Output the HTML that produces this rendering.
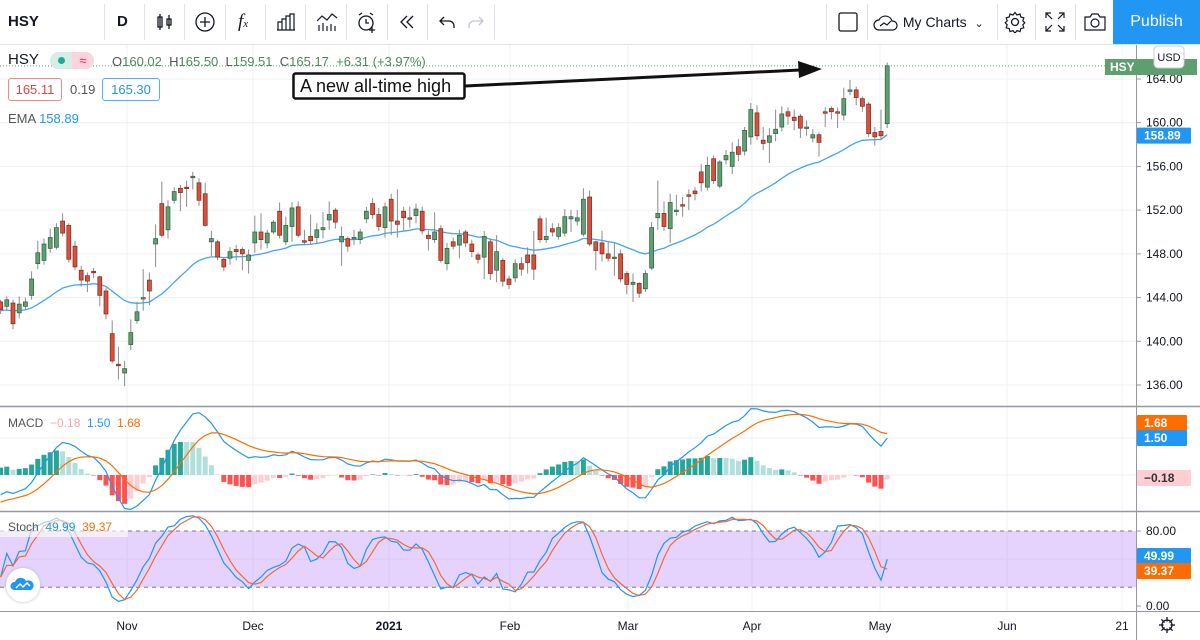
<!DOCTYPE html>
<html><head><meta charset="utf-8"><style>
body{margin:0;width:1200px;height:640px;overflow:hidden;background:#fff;font-family:"Liberation Sans",sans-serif;position:relative}
.tb{position:absolute;left:0;top:0;width:1200px;height:44px;border-bottom:1px solid #e0e3eb;background:#fff}
.ti{position:absolute;top:0;height:44px;line-height:44px;font-size:15px;color:#131722;text-align:center}
.sep{position:absolute;top:4px;width:1px;height:36px;background:#e0e3eb}
.lg{position:absolute;font-size:13px;color:#131722}
</style></head><body>
<div class="tb">
  <div class="ti" style="left:8px;font-weight:bold">HSY</div>
  <div class="sep" style="left:104px"></div>
  <div class="ti" style="left:117px;font-weight:bold">D</div>
  <div class="sep" style="left:144px"></div>
  <div class="ti" style="left:156px"><svg width="18" height="20" viewBox="0 0 18 20" style="vertical-align:middle"><path d="M4 2v16M2 5h4v10H2zM13 3v14M11 7h4v6h-4z" stroke="#131722" fill="none" stroke-width="1.3"/></svg></div>
  <div class="sep" style="left:184px"></div>
  <div class="ti" style="left:194px"><svg width="22" height="22" viewBox="0 0 22 22" style="vertical-align:middle"><circle cx="11" cy="11" r="9" stroke="#131722" fill="none" stroke-width="1.3"/><path d="M11 6v10M6 11h10" stroke="#131722" stroke-width="1.3"/></svg></div>
  <div class="sep" style="left:225px"></div>
  <div class="ti" style="left:238px;font-style:italic;font-family:'Liberation Serif',serif;font-size:19px">f<span style="font-size:11px">x</span></div>
  <div class="sep" style="left:265px"></div>
  <div class="ti" style="left:276px"><svg width="20" height="18" viewBox="0 0 20 18" style="vertical-align:middle"><path d="M2 17V9h4v8M6 17V6h4v11M10 17V3h4v14M14 17V1h4v16M1 17h18" stroke="#131722" fill="none" stroke-width="1.2"/></svg></div>
  <div class="sep" style="left:305px"></div>
  <div class="ti" style="left:316px"><svg width="22" height="20" viewBox="0 0 22 20" style="vertical-align:middle"><path d="M1 9l5-5 5 4 5-6 5 4M3 19v-6M7 19v-8M11 19v-5M15 19v-7M19 19v-5" stroke="#131722" fill="none" stroke-width="1.2"/></svg></div>
  <div class="sep" style="left:346px"></div>
  <div class="ti" style="left:356px"><svg width="22" height="22" viewBox="0 0 22 22" style="vertical-align:middle"><circle cx="10" cy="12" r="7" stroke="#131722" fill="none" stroke-width="1.3"/><path d="M10 8v4h3M3 4l3-2M17 4l-3-2M16 16v6M13 19h6" stroke="#131722" fill="none" stroke-width="1.3"/></svg></div>
  <div class="sep" style="left:387px"></div>
  <div class="ti" style="left:398px"><svg width="18" height="16" viewBox="0 0 18 16" style="vertical-align:middle"><path d="M9 2L3 8l6 6M15 2L9 8l6 6" stroke="#131722" fill="none" stroke-width="1.3"/></svg></div>
  <div class="sep" style="left:427px"></div>
  <div class="ti" style="left:438px"><svg width="18" height="16" viewBox="0 0 18 16" style="vertical-align:middle"><path d="M6 3L2 7l4 4M2 7h9a5 5 0 0 1 5 5v2" stroke="#131722" fill="none" stroke-width="1.3"/></svg></div>
  <div class="ti" style="left:467px"><svg width="18" height="16" viewBox="0 0 18 16" style="vertical-align:middle"><path d="M12 3l4 4-4 4M16 7H7a5 5 0 0 0-5 5v2" stroke="#c3c6ce" fill="none" stroke-width="1.3"/></svg></div>
  <div class="sep" style="left:494px"></div>
  <div class="sep" style="left:826px"></div>
  <div class="ti" style="left:838px"><svg width="20" height="20" viewBox="0 0 20 20" style="vertical-align:middle"><rect x="1" y="1" width="18" height="18" rx="2" stroke="#131722" fill="none" stroke-width="1.3"/></svg></div>
  <div class="sep" style="left:867px"></div>
  <div class="ti" style="left:873px;font-size:14px"><svg width="26" height="18" viewBox="0 0 26 18" style="vertical-align:middle"><path d="M6 16a5 5 0 0 1 0-10 7 7 0 0 1 13 1 4.5 4.5 0 0 1 1 9z" stroke="#131722" fill="none" stroke-width="1.2"/><path d="M7 12l4-3 3 2 4-4" stroke="#131722" fill="none" stroke-width="1.2"/></svg> My Charts &nbsp;<span style="font-size:11px">&#8964;</span></div>
  <div class="sep" style="left:997px"></div>
  <div class="ti" style="left:1004px"><svg width="22" height="22" viewBox="0 0 22 22" style="vertical-align:middle"><circle cx="11" cy="11" r="3.5" stroke="#131722" fill="none" stroke-width="1.3"/><path d="M11 1.5l2 2.5 3-1 .8 3 3 .8-1 3 2 2-2 2 1 3-3 .8-.8 3-3-1-2 2.5-2-2.5-3 1-.8-3-3-.8 1-3-2-2 2-2-1-3 3-.8.8-3 3 1z" stroke="#131722" fill="none" stroke-width="1.2"/></svg></div>
  <div class="sep" style="left:1035px"></div>
  <div class="ti" style="left:1045px"><svg width="20" height="20" viewBox="0 0 20 20" style="vertical-align:middle"><path d="M1 6V1h5M1 1l6 6M14 1h5v5M19 1l-6 6M1 14v5h5M1 19l6-6M19 14v5h-5M19 19l-6-6" stroke="#131722" fill="none" stroke-width="1.2"/></svg></div>
  <div class="sep" style="left:1075px"></div>
  <div class="ti" style="left:1084px"><svg width="22" height="18" viewBox="0 0 22 18" style="vertical-align:middle"><path d="M1 4h5l2-3h6l2 3h5v13H1z" stroke="#131722" fill="none" stroke-width="1.2"/><circle cx="11" cy="10" r="4" stroke="#131722" fill="none" stroke-width="1.2"/></svg></div>
  <div style="position:absolute;left:1113px;top:0;width:87px;height:44px;background:#2196f3;color:#fff;font-size:16px;line-height:44px;text-align:center">Publish</div>
</div>

<svg id="chart" width="1200" height="640" style="position:absolute;left:0;top:0"></svg>

<div class="lg" style="left:8px;top:51px;font-size:15px">HSY</div>
<div class="lg" style="left:50px;top:52px;width:44px;height:17px;border-radius:9px;background:#d5ede6;overflow:hidden"><div style="position:absolute;left:8px;top:5px;width:7px;height:7px;border-radius:4px;background:#26a69a"></div><div style="position:absolute;left:22px;top:0;width:22px;height:17px;background:#fbd4df;color:#e91e63;font-size:13px;line-height:17px;text-align:center">≈</div></div>
<div class="lg" style="left:112px;top:54px;color:#4c8a5d;font-size:13px"><span style="color:#555">O</span>160.02 &nbsp;<span style="color:#555">H</span>165.50 &nbsp;<span style="color:#555">L</span>159.51 &nbsp;<span style="color:#555">C</span>165.17 &nbsp;+6.31 (+3.97%)</div>
<div class="lg" style="left:8px;top:78px;width:52px;height:21px;border:1px solid #ef8a8a;border-radius:3px;color:#e04545;line-height:21px;text-align:center">165.11</div>
<div class="lg" style="left:70px;top:82px;color:#555">0.19</div>
<div class="lg" style="left:102px;top:78px;width:56px;height:21px;border:1px solid #5aaff3;border-radius:3px;color:#2196f3;line-height:21px;text-align:center">165.30</div>
<div class="lg" style="left:8px;top:111px;color:#555">EMA <span style="color:#2196f3">158.89</span></div>
<div class="lg" style="left:8px;top:416px;color:#555;font-size:12px">MACD &nbsp;<span style="color:#f5a5b0">−0.18</span> &nbsp;<span style="color:#2196f3">1.50</span> &nbsp;<span style="color:#ff6d00">1.68</span></div>
<div class="lg" style="left:0;top:515px;width:128px;height:22px;background:rgba(255,255,255,0.6)"></div>
<div class="lg" style="left:8px;top:520px;color:#555;font-size:12px">Stoch &nbsp;<span style="color:#2196f3">49.99</span> &nbsp;<span style="color:#ff6d00">39.37</span></div>
<div style="position:absolute;left:6px;top:568px;width:34px;height:34px;border-radius:17px;background:#fff;box-shadow:0 0 3px #bbb"><svg width="34" height="34" viewBox="0 0 34 34"><path d="M8 22a4 4 0 0 1 1-8 6 6 0 0 1 11-1 4.5 4.5 0 0 1 5 9z" fill="#2196f3"/><path d="M10 20l4-4 3 3 4-4 3 3" stroke="#fff" fill="none" stroke-width="1.5"/></svg></div>

<script>
// candles: open, high, low, close
const opens=[143.6,143.2,143.5,142.6,143.2,144.2,147.1,147.4,148.5,148.6,151.0,150.6,148.7,146.5,146.0,146.4,145.9,144.6,140.7,137.9,137.1,139.7,141.9,143.9,145.6,148.9,152.6,150.2,152.9,154.0,154.1,155.0,154.5,153.5,149.1,149.1,147.5,147.6,148.4,148.4,147.4,149.0,150.0,149.0,150.0,151.9,149.1,150.5,152.3,149.2,149.6,149.5,150.2,151.1,152.0,149.1,149.4,149.5,149.3,151.2,152.6,151.6,150.4,153.0,151.0,151.9,151.3,151.5,151.9,149.7,149.3,150.3,147.1,149.1,148.8,150.0,148.9,147.9,147.7,149.1,146.5,147.4,145.7,145.8,147.1,147.9,147.9,151.2,149.3,150.3,149.6,149.9,151.2,151.0,149.8,153.2,149.1,149.0,148.0,147.6,148.0,146.2,145.2,145.3,144.8,146.7,151.3,151.7,150.3,151.9,152.5,153.4,153.75,155.5,154.1,156.7,154.2,156.6,156.0,157.8,157.4,158.7,160.9,158.4,158.2,159.0,159.6,161.0,160.5,160.6,159.6,158.6,158.9,161.0,161.3,161.0,160.7,162.9,163.0,162.2,161.7,159.1,159.2,159.9];
const highs=[143.8,144.1,143.8,144.1,144.0,146.4,149.2,149.4,150.3,150.8,151.7,150.8,149.2,146.9,146.3,146.7,146.0,144.9,141.9,139.5,138.2,142.0,143.6,146.6,146.3,150.7,154.6,152.9,154.1,154.3,154.7,155.5,154.9,154.5,150.1,149.3,147.7,148.6,148.8,148.6,148.4,151.5,151.7,150.2,151.1,152.7,151.4,152.7,152.8,150.2,151.6,150.8,151.8,152.8,152.2,150.5,149.6,150.2,150.3,152.3,153.1,152.2,152.7,153.5,153.9,152.3,152.3,152.6,152.3,150.1,151.8,150.6,149.0,149.5,150.2,150.2,149.3,148.1,150.1,149.4,149.7,147.6,146.0,147.5,147.7,148.6,150.1,151.5,151.3,150.8,150.8,152.1,152.0,152.0,154.0,153.8,149.2,150.1,149.1,149.0,148.4,146.4,146.2,145.4,146.5,150.9,154.7,152.8,153.5,153.4,153.2,153.9,154.1,156.2,156.9,157.0,156.6,157.5,158.2,158.5,159.6,161.8,161.6,159.6,159.5,161.2,161.5,161.4,161.2,160.8,160.2,159.4,159.1,161.4,161.5,161.4,163.2,163.9,163.3,162.4,161.9,159.6,161.2,165.5];
const lows=[142.5,142.8,141.1,142.1,142.9,143.8,146.6,147.0,148.1,148.4,149.6,147.2,146.5,145.0,144.5,145.8,143.2,142.0,138.0,136.5,135.9,139.2,141.6,142.8,143.3,146.8,149.5,149.4,152.6,151.9,152.3,153.9,152.4,150.5,147.8,147.4,146.4,147.0,147.4,146.5,146.2,148.1,148.4,148.5,149.8,149.4,148.8,149.1,149.5,148.8,148.9,148.9,149.4,150.2,150.3,146.9,148.2,148.8,148.9,150.8,151.2,150.1,149.5,149.7,149.5,150.1,150.4,150.8,149.8,148.3,149.0,147.2,146.5,148.4,147.6,148.6,147.7,147.1,145.7,145.6,145.4,145.0,144.8,145.4,146.0,146.2,145.6,149.0,149.0,149.6,149.3,149.6,150.0,150.6,149.6,148.7,146.5,147.3,147.3,146.0,145.4,144.3,143.6,144.0,144.5,146.5,150.2,150.1,149.0,151.5,151.4,152.0,152.9,153.7,153.8,154.4,154.0,156.2,155.3,156.5,157.0,158.0,158.4,157.5,156.3,158.3,159.2,159.8,159.3,158.6,158.8,158.2,156.9,159.6,160.3,159.5,160.2,162.5,161.6,161.0,158.7,157.9,158.4,159.5];
const closes=[142.9,143.8,141.6,143.4,143.6,145.7,148.1,148.9,149.5,150.4,149.9,147.5,146.8,145.6,145.5,146.3,144.2,142.5,138.2,137.8,137.5,140.8,142.7,144.0,144.6,149.4,149.7,152.3,153.7,153.6,154.0,155.1,152.9,150.6,149.4,147.7,146.8,148.2,148.2,148.0,147.9,150.0,149.3,149.9,150.9,149.7,150.6,152.2,149.7,149.1,149.2,150.2,150.4,151.6,150.9,149.6,148.7,149.5,150.0,151.9,151.6,150.5,152.3,151.0,150.7,151.3,151.2,152.1,150.1,149.4,150.0,147.4,148.5,148.7,149.7,149.0,148.2,147.5,149.6,146.2,148.2,145.5,145.2,147.1,146.6,147.2,146.6,149.3,149.6,150.0,150.4,151.4,151.4,151.3,153.0,148.9,148.3,148.0,147.6,147.7,145.7,145.2,145.4,144.4,146.2,150.4,151.7,150.5,152.7,152.0,152.4,153.3,153.5,154.5,156.1,154.7,156.4,157.0,157.3,157.1,159.3,161.2,158.8,158.1,158.8,159.4,160.8,160.6,160.2,159.5,159.6,158.9,158.2,160.9,161.0,160.9,162.2,163.0,162.3,161.5,159.0,158.7,158.8,165.2];
const priceTicks=[164,160,156,152,148,144,140,136];
const macdTicks=[];
const stochTicks=[80,0];
const monthLabels=["Nov","Dec","2021","Feb","Mar","Apr","May","Jun","21"];
const monthX=[127,253,389,510,628,752,880,1007,1122];

const NS="http://www.w3.org/2000/svg";
const svg=document.getElementById('chart');
const AX=1136;
const xOf=i=>0.6+i*6.2;
const yP=p=>385-(p-136)*10.93;
const yM=v=>475-v*24.7;
const yS=v=>606-v*0.9375;
function mk(tag,attrs,parent){const e=document.createElementNS(NS,tag);for(const k in attrs)e.setAttribute(k,attrs[k]);(parent||svg).appendChild(e);return e;}

// grid
const grid=mk('g',{});


monthX.forEach(x=>{mk('line',{x1:x,x2:x,y1:45,y2:610,stroke:'#eef0f4','stroke-width':1},grid);});
priceTicks.forEach(p=>{mk('line',{x1:0,x2:AX,y1:yP(p),y2:yP(p),stroke:'#eef0f4'},grid);});
mk('line',{x1:0,x2:AX,y1:yM(0),y2:yM(0),stroke:'#eef0f4'},grid);
mk('line',{x1:0,x2:AX,y1:yM(1.5),y2:yM(1.5),stroke:'#eef0f4'},grid);
mk('line',{x1:0,x2:AX,y1:yS(50),y2:yS(50),stroke:'#eef0f4'},grid);

// stoch band
const band=mk('rect',{x:0,y:yS(80),width:AX,height:yS(20)-yS(80),fill:'rgba(190,140,250,0.38)'});


[80,20].forEach(v=>{mk('line',{x1:0,x2:AX,y1:yS(v),y2:yS(v),stroke:'#787b86','stroke-dasharray':'4,4'});});

// pane separators
mk('line',{x1:0,x2:1200,y1:406.5,y2:406.5,stroke:'#9598a1','stroke-width':1.5});
mk('line',{x1:0,x2:1200,y1:511.5,y2:511.5,stroke:'#9598a1','stroke-width':1.5});
mk('line',{x1:0,x2:1200,y1:611.5,y2:611.5,stroke:'#9598a1'});
mk('line',{x1:AX+0.5,x2:AX+0.5,y1:45,y2:640,stroke:'#9598a1'});

// last price dotted line
mk('line',{x1:0,x2:AX,y1:yP(closes[closes.length-1]),y2:yP(closes[closes.length-1]),stroke:'#5e9e6f','stroke-dasharray':'1,2'});

// EMA
const emaLen=30;const ema=[];let e0=142.8;
closes.forEach((c,i)=>{e0=i===0?e0:e0+(c-e0)*2/(emaLen+1);ema.push(e0);});
const emaPath=mk('path',{d:ema.map((v,i)=>(i?'L':'M')+xOf(i).toFixed(1)+' '+yP(v).toFixed(1)).join(''),stroke:'#42a5f5',fill:'none','stroke-width':1.3});



// candles
closes.forEach((c,i)=>{
  const o=opens[i],up=c>=o,x=xOf(i);
  const g=mk('g',{});
  
  
  mk('line',{x1:x,x2:x,y1:yP(highs[i]),y2:yP(lows[i]),stroke:'#8c8c8c','stroke-width':1},g);
  const top=yP(Math.max(o,c)),h=Math.max(1.5,Math.abs(yP(o)-yP(c)));
  mk('rect',{x:x-2,y:top,width:4,height:h,fill:up?'#5f9f72':'#d6513e',stroke:up?'#2f5e3d':'#7d2a1f','stroke-width':0.7},g);
});

// MACD
let e12=143.0,e26=143.8,sig=-1.1;const macd=[],signal=[],hist=[];
closes.forEach((c,i)=>{if(i>0){e12+=(c-e12)*2/13;e26+=(c-e26)*2/27;}const m=e12-e26-(i===0?0.8:0)*0;const mv=i===0?-0.8:m;if(i>0)sig+=(mv-sig)*2/10;macd.push(mv);signal.push(sig);hist.push(mv-sig);});
hist.forEach((h,i)=>{
  const prev=i?hist[i-1]:h;
  const col=h>=0?(h>=prev?'#26a69a':'#b2dfdb'):(h<prev?'#ff5252':'#ffcdd2');
  const y1=yM(Math.max(h,0)),y2=yM(Math.min(h,0));
  const b=mk('rect',{x:xOf(i)-2.5,y:y1,width:5,height:Math.max(0.5,y2-y1),fill:col});
  
  
});
const ml=mk('path',{d:macd.map((v,i)=>(i?'L':'M')+xOf(i).toFixed(1)+' '+yM(v).toFixed(1)).join(''),stroke:'#2196f3',fill:'none','stroke-width':1.2});


const sl=mk('path',{d:signal.map((v,i)=>(i?'L':'M')+xOf(i).toFixed(1)+' '+yM(v).toFixed(1)).join(''),stroke:'#ff6d00',fill:'none','stroke-width':1.2});



// Stoch 14,3,3
const raw=closes.map((c,i)=>{const s=Math.max(0,i-13);const hh=Math.max(...highs.slice(s,i+1)),ll=Math.min(...lows.slice(s,i+1));return hh===ll?50:100*(c-ll)/(hh-ll);});
const sma=(a,n)=>a.map((v,i)=>{const s=a.slice(Math.max(0,i-n+1),i+1);return s.reduce((x,y)=>x+y,0)/s.length;});
const kS=sma(raw,3),dS=sma(kS,3);
const kl=mk('path',{d:kS.map((v,i)=>(i?'L':'M')+xOf(i).toFixed(1)+' '+yS(v).toFixed(1)).join(''),stroke:'#2196f3',fill:'none','stroke-width':1.2});


const dl=mk('path',{d:dS.map((v,i)=>(i?'L':'M')+xOf(i).toFixed(1)+' '+yS(v).toFixed(1)).join(''),stroke:'#f06a3a',fill:'none','stroke-width':1.2});



// axis labels
function txt(x,y,s,attrs,name){const t=mk('text',Object.assign({x:x,y:y,'font-size':12,fill:'#131722','font-family':'Liberation Sans, sans-serif'},attrs||{}));t.textContent=s;return t;}
priceTicks.forEach(p=>{mk('line',{x1:AX,x2:AX+5,y1:yP(p),y2:yP(p),stroke:'#9598a1'});txt(1146,yP(p)+4,p.toFixed(2),{},'price-tick-label');});
stochTicks.forEach(v=>{mk('line',{x1:AX,x2:AX+5,y1:yS(v),y2:yS(v),stroke:'#9598a1'});txt(1146,yS(v)+4,v.toFixed(2),{},'stoch-tick-label');});
monthLabels.forEach((m,i)=>{txt(monthX[i],630,m,{'text-anchor':'middle','font-weight':m==='2021'?'bold':'normal'},'time-axis-label');});

// tags
function tag(y,w,bg,fg,s,name){const g=mk('g',{});mk('rect',{x:AX+1,y:y-8,width:w,height:16,fill:bg,rx:1},g);const t=mk('text',{x:AX+8,y:y+4,'font-size':12,fill:fg,'font-family':'Liberation Sans, sans-serif','font-weight':'bold'},g);t.textContent=s;}
tag(yP(ema[ema.length-1])+1,54,'#2196f3','#fff','158.89','ema-price-tag');
tag(423,50,'#ff6d00','#fff','1.68','macd-signal-tag');
tag(438,50,'#2196f3','#fff','1.50','macd-value-tag');
tag(478,54,'#ffcdd2','#333','−0.18','macd-hist-tag');
tag(556,54,'#2196f3','#fff','49.99','stoch-k-tag');
tag(571,54,'#ff6d00','#fff','39.37','stoch-d-tag');
const lt=mk('g',{});
mk('rect',{x:1105,y:59,width:92,height:16,fill:'#5e9e6f'},lt);
const lt1=mk('text',{x:1110,y:71,'font-size':12,fill:'#fff','font-weight':'bold','font-family':'Liberation Sans, sans-serif'},lt);lt1.textContent='HSY';
mk('rect',{x:1154,y:46,width:30,height:22,rx:4,fill:'#fff',stroke:'#ccc'},lt);
const lt2=mk('text',{x:1169,y:61,'font-size':11,fill:'#131722','text-anchor':'middle','font-family':'Liberation Sans, sans-serif'},lt);lt2.textContent='USD';

// annotation
const an=mk('g',{});
mk('line',{x1:465,y1:86,x2:800,y2:70,stroke:'#111','stroke-width':3},an);
mk('polygon',{points:'798,61 822,69 799,78',fill:'#111'},an);
mk('rect',{x:293.5,y:73.5,width:171,height:25,rx:2,fill:'#fff',stroke:'#111','stroke-width':2.5},an);
const at=mk('text',{x:300,y:92,'font-size':18,fill:'#111','font-family':'Liberation Sans, sans-serif'},an);at.textContent='A new all-time high';

// gear bottom right
const gr=mk('g',{});
mk('circle',{cx:1167,cy:625,r:5,fill:'none',stroke:'#131722','stroke-width':1.3},gr);
[0,45,90,135].forEach(a=>{mk('line',{x1:1159,y1:625,x2:1175,y2:625,stroke:'#131722','stroke-width':1.3,transform:'rotate('+a+' 1167 625)'},gr);});
mk('circle',{cx:1167,cy:625,r:3.5,fill:'#fff'},gr);
</script>
</body></html>
